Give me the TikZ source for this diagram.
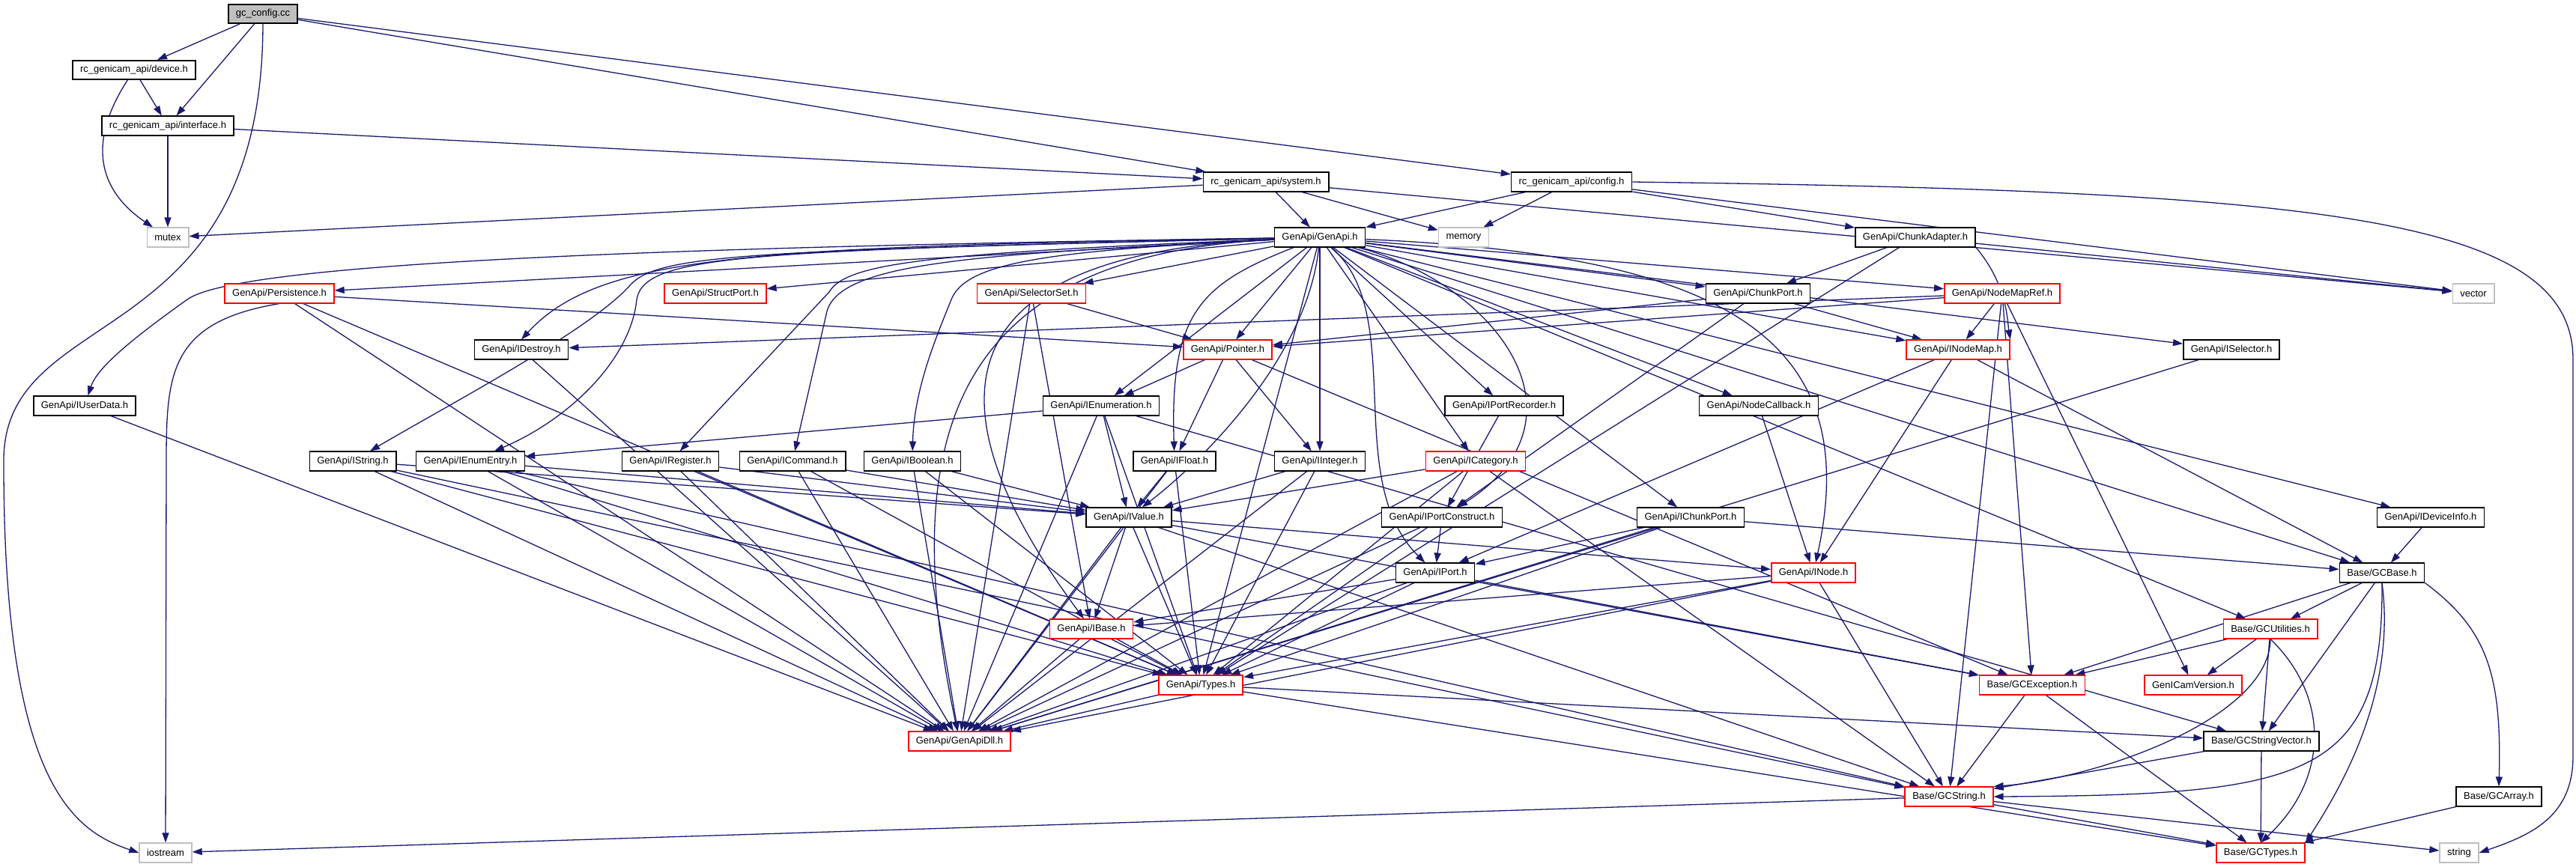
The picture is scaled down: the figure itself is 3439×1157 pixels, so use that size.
\documentclass[tikz,border=0pt]{standalone}
\usepackage{fontspec}
\setmainfont{Liberation Sans}
\usetikzlibrary{arrows.meta,backgrounds}
\definecolor{edgeblue}{HTML}{191970}
\definecolor{rootgray}{HTML}{BFBFBF}
\definecolor{sysgray}{HTML}{BFBFBF}

\begin{document}
\begin{tikzpicture}[x=1pt, y=-1pt,
  filebox/.style={draw=black, fill=white, line width=1.6pt, minimum height=25.5pt,
                  inner xsep=10pt, inner ysep=0pt, font=\fontsize{13}{15}\selectfont},
  redbox/.style={filebox, draw=red},
  sysbox/.style={filebox, draw=sysgray},
  rootbox/.style={filebox, fill=rootgray},
  dep/.style={draw=edgeblue, line width=1.3pt, -{Triangle[length=13pt,width=9pt]}},
]
  \useasboundingbox (0,0) rectangle (3439,1157);

  % Top
  \node[rootbox] (gcconfig) at (351,18.5) {gc\_config.cc};
  \node[filebox] (device) at (179,93.5) {rc\_genicam\_api/device.h};
  \node[filebox] (interface) at (224,168) {rc\_genicam\_api/interface.h};
  \node[filebox] (system) at (1690,243) {rc\_genicam\_api/system.h};
  \node[filebox] (config) at (2098,243) {rc\_genicam\_api/config.h};

  % System headers
  \node[sysbox] (mutex) at (224,317) {mutex};
  \node[sysbox] (memory) at (1954,317) {memory};
  \node[sysbox] (vector) at (3302,392) {vector};
  \node[sysbox] (iostream) at (221,1139) {iostream};
  \node[sysbox] (string) at (3283,1139) {string};

  % GenApi
  \node[filebox] (genapi) at (1762,317) {GenApi/GenApi.h};
  \node[filebox] (chunkadapter) at (2557,317) {GenApi/ChunkAdapter.h};
  \node[redbox] (persistence) at (373,392) {GenApi/Persistence.h};
  \node[redbox] (structport) at (955,392) {GenApi/StructPort.h};
  \node[redbox] (selectorset) at (1377,392) {GenApi/SelectorSet.h};
  \node[filebox] (chunkport) at (2347,392) {GenApi/ChunkPort.h};
  \node[redbox] (nodemapref) at (2673,392) {GenApi/NodeMapRef.h};
  \node[filebox] (idestroy) at (696,467) {GenApi/IDestroy.h};
  \node[redbox] (pointer) at (1639,467) {GenApi/Pointer.h};
  \node[redbox] (inodemap) at (2614,467) {GenApi/INodeMap.h};
  \node[filebox] (iselector) at (2979,467) {GenApi/ISelector.h};
  \node[filebox] (iuserdata) at (113,542) {GenApi/IUserData.h};
  \node[filebox] (ienumeration) at (1470,542) {GenApi/IEnumeration.h};
  \node[filebox] (iportrecorder) at (2008,542) {GenApi/IPortRecorder.h};
  \node[filebox] (nodecallback) at (2348,542) {GenApi/NodeCallback.h};
  \node[filebox] (istring) at (471,616) {GenApi/IString.h};
  \node[filebox] (ienumentry) at (628,616) {GenApi/IEnumEntry.h};
  \node[filebox] (iregister) at (895,616) {GenApi/IRegister.h};
  \node[filebox] (icommand) at (1058,616) {GenApi/ICommand.h};
  \node[filebox] (iboolean) at (1218,616) {GenApi/IBoolean.h};
  \node[filebox] (ifloat) at (1568,616) {GenApi/IFloat.h};
  \node[filebox] (iinteger) at (1762,616) {GenApi/IInteger.h};
  \node[redbox] (icategory) at (1970,616) {GenApi/ICategory.h};
  \node[filebox] (ivalue) at (1507,691) {GenApi/IValue.h};
  \node[filebox] (iportconstruct) at (1925,691) {GenApi/IPortConstruct.h};
  \node[filebox] (ichunkport) at (2257,691) {GenApi/IChunkPort.h};
  \node[filebox] (ideviceinfo) at (3245,691) {GenApi/IDeviceInfo.h};
  \node[filebox] (iport) at (1916,765) {GenApi/IPort.h};
  \node[redbox] (inode) at (2421,765) {GenApi/INode.h};
  \node[redbox] (ibase) at (1457,840) {GenApi/IBase.h};
  \node[redbox] (types) at (1603,915) {GenApi/Types.h};
  \node[redbox] (genapidll) at (1281,990) {GenApi/GenApiDll.h};

  % Base
  \node[filebox] (gcbase) at (3180,765) {Base/GCBase.h};
  \node[redbox] (gcutilities) at (3031,840) {Base/GCUtilities.h};
  \node[redbox] (gcexception) at (2713,915) {Base/GCException.h};
  \node[redbox] (genicamversion) at (2928,915) {GenICamVersion.h};
  \node[filebox] (gcstringvector) at (3019,990) {Base/GCStringVector.h};
  \node[redbox] (gcstring) at (2602,1064) {Base/GCString.h};
  \node[filebox] (gcarray) at (3336,1064) {Base/GCArray.h};
  \node[redbox] (gctypes) at (3018,1139) {Base/GCTypes.h};

  \begin{pgfonlayer}{background}
  % Includes
  \foreach \a/\b in {gcconfig/device, gcconfig/interface, gcconfig/system, gcconfig/config,
                     device/interface, interface/mutex, interface/system,
                     system/mutex, system/genapi, system/memory, system/vector,
                     config/genapi, config/memory, config/chunkadapter, config/vector}
    \draw[dep] (\a) -- (\b);

  % GenApi.h fan
  \foreach \b in {persistence, structport, selectorset, pointer, ienumeration, iinteger,
                  iportrecorder, icategory, nodecallback, ichunkport, chunkport,
                  nodemapref, inodemap, iselector, ideviceinfo, gcbase, gcutilities, types}
    \draw[dep] (genapi) -- (\b);
  \foreach \b/\p/\q in {ifloat/{1600,380}/{1562,420},
                        ivalue/{1745,480}/{1600,620},
                        ibase/{1230,340}/{1250,560},
                        genapidll/{1290,340}/{1190,560},
                        iport/{1880,420}/{1790,640},
                        iportconstruct/{2000,380}/{2130,560},
                        inode/{2300,340}/{2490,450}}
    \draw[dep] (genapi) .. controls (\p) and (\q) .. (\b);
  \draw[dep] (genapi) .. controls (900,330) and (320,350) .. (250,400)
             .. controls (180,450) and (130,490) .. (iuserdata);
  \draw[dep] (genapi) .. controls (1000,330) and (800,340) .. (idestroy.north);
  \draw[dep] (genapi) .. controls (1000,335) and (880,340) .. (842,380)
             .. controls (790,440) and (600,540) .. (istring);
  \draw[dep] (genapi) .. controls (1000,335) and (860,340) .. (850,400)
             .. controls (842,480) and (760,560) .. (ienumentry);
  \draw[dep] (genapi) .. controls (1250,338) and (1130,350) .. (1107,390) -- (iregister);
  \draw[dep] (genapi) .. controls (1300,340) and (1115,350) .. (1103,420) -- (icommand);
  \draw[dep] (genapi) .. controls (1400,335) and (1290,350) .. (1270,400)
             .. controls (1250,450) and (1220,520) .. (iboolean);

  \foreach \a/\b in {persistence/pointer, persistence/genapidll, persistence/types,
                     selectorset/pointer, selectorset/ibase, selectorset/genapidll,
                     chunkadapter/chunkport, chunkadapter/vector, chunkadapter/types,
                     chunkport/pointer, chunkport/inodemap, chunkport/iportconstruct,
                     nodemapref/pointer, nodemapref/inodemap, nodemapref/idestroy,
                     nodemapref/gcstring, nodemapref/gcexception, nodemapref/genicamversion,
                     idestroy/genapidll, iuserdata/genapidll, iselector/genapidll,
                     pointer/ienumeration, pointer/ifloat, pointer/iinteger, pointer/gcexception,
                     inodemap/inode, inodemap/iport, inodemap/gcbase,
                     ienumeration/ienumentry, ienumeration/ivalue, ienumeration/genapidll,
                     ienumeration/types, ienumeration/gcstringvector,
                     iportrecorder/iportconstruct, nodecallback/inode,
                     istring/ivalue, istring/genapidll, istring/types, istring/gcstring,
                     ienumentry/ivalue, ienumentry/genapidll, ienumentry/types, ienumentry/gcstring,
                     iregister/ivalue, iregister/genapidll, iregister/types,
                     icommand/ivalue, icommand/genapidll, icommand/types,
                     iboolean/ivalue, iboolean/genapidll, iboolean/types,
                     ifloat/ivalue, ifloat/genapidll, ifloat/types,
                     iinteger/ivalue, iinteger/genapidll, iinteger/types,
                     icategory/ivalue, icategory/genapidll, icategory/types, icategory/gcstring,
                     ivalue/ibase, ivalue/types, ivalue/genapidll, ivalue/inode,
                     ivalue/gcstring, ivalue/gcexception,
                     iportconstruct/iport, iportconstruct/types, iportconstruct/genapidll,
                     ichunkport/iport, ichunkport/types, ichunkport/genapidll, ichunkport/gcbase,
                     ideviceinfo/gcbase,
                     iport/ibase, iport/types, iport/genapidll, iport/gcexception,
                     inode/ibase, inode/types, inode/genapidll, inode/gcstring,
                     ibase/types, ibase/genapidll,
                     types/genapidll, types/gcstringvector, types/gctypes,
                     gcbase/gcexception, gcbase/gcutilities, gcbase/gcstringvector,
                     gcutilities/gcexception, gcutilities/genicamversion, gcutilities/gcstringvector,
                     gcexception/gcstring, gcexception/gctypes,
                     gcstringvector/gcstring, gcstringvector/gctypes,
                     gcstring/gctypes, gcstring/string, gcstring/iostream, gcarray/gctypes}
    \draw[dep] (\a) -- (\b);

  % Curved ones
  \draw[dep] (device) .. controls (110,200) and (140,260) .. (mutex);
  \draw[dep] (gcconfig.south) .. controls (350,480) and (0,400) .. (5,620)
             .. controls (5,1050) and (100,1110) .. (iostream.west);
  \draw[dep] (persistence.south) .. controls (225,430) and (222,500) .. (222,620) -- (iostream);
  \draw[dep] (config.east) .. controls (3100,255) and (3435,290) .. (3435,480) -- (3435,1010)
             .. controls (3435,1090) and (3380,1115) .. (string.east);
  \draw[dep] (chunkadapter.south east) .. controls (2680,380) and (2680,430) .. (inodemap.north east);
  \draw[dep] (gcbase.south) .. controls (3182,1040) and (3080,1062) .. (gcstring.east);
  \draw[dep] (gcbase.south) .. controls (3200,930) and (3120,1060) .. (gctypes.north east);
  \draw[dep] (gcbase.south east) .. controls (3320,840) and (3340,900) .. (gcarray.north);
  \draw[dep] (gcutilities.south) .. controls (3030,960) and (2800,1040) .. (gcstring.north east);
  \draw[dep] (gcutilities.south) .. controls (3110,930) and (3110,1040) .. (gctypes.north);
  \end{pgfonlayer}
\end{tikzpicture}
\end{document}
